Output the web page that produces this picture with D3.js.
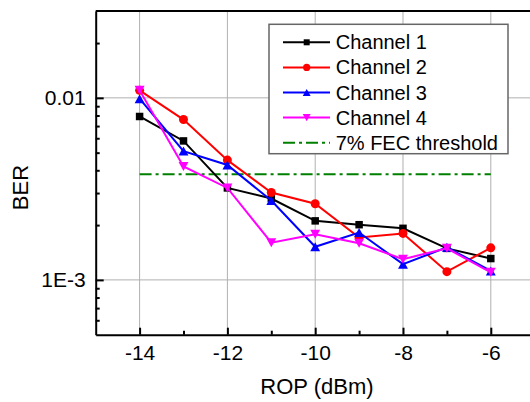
<!DOCTYPE html>
<html>
<head>
<meta charset="utf-8">
<script src="https://cdn.jsdelivr.net/npm/d3@7"></script>
<style>
  body { margin: 0; background: #fff; }
  svg { display: block; font-family: "Liberation Sans", Arial, sans-serif; }
</style>
</head>
<body>
<svg id="chart"></svg>
<script>
// data
const rop = [-14, -13, -12, -11, -10, -9, -8, -7, -6];
const channel1 = [7.9e-3, 5.8e-3, 3.2e-3, 2.8e-3, 2.11e-3, 2.01e-3, 1.92e-3, 1.49e-3, 1.31e-3];
const channel2 = [1.1e-2, 7.6e-3, 4.55e-3, 3.02e-3, 2.62e-3, 1.71e-3, 1.8e-3, 1.11e-3, 1.5e-3];
const channel3 = [9.9e-3, 5.1e-3, 4.28e-3, 2.73e-3, 1.52e-3, 1.82e-3, 1.22e-3, 1.51e-3, 1.12e-3];
const channel4 = [1.1e-2, 4.2e-3, 3.2e-3, 1.6e-3, 1.78e-3, 1.59e-3, 1.3e-3, 1.49e-3, 1.1e-3];
const fecThreshold = 3.8e-3;
const fecRange = [-14, -6];
const seriesNames = ["Channel 1", "Channel 2", "Channel 3", "Channel 4"];
const fecName = "7% FEC threshold";
const xTicks = [-14, -12, -10, -8, -6];
const xMinorTicks = [-13, -11, -9, -7];
const yTicks = [0.01, 0.001];
const yTickLabels = ["0.01", "1E-3"];

const width = 530, height = 402;
const margin = { top: 11, left: 95.7 };
const plotW = 439, plotH = 323.7;

const svg = d3.select("#chart").attr("width", width).attr("height", height);
const g = svg.append("g").attr("transform", `translate(${margin.left},${margin.top})`);

const x = d3.scaleLinear().domain([-15, -5]).range([0, plotW]);
const y = d3.scaleLog().domain([5e-4, 3e-2]).range([plotH, 0]);

// minor log ticks 2..9 per decade
const yMinor = [];
[1e-4, 1e-3, 1e-2].forEach(d => {
  for (let k = 2; k <= 9; k++) {
    const v = k * d;
    if (v > 5e-4 && v < 3e-2) yMinor.push(v);
  }
});

// grid
g.append("g").selectAll("line").data(xTicks).join("line")
  .attr("x1", d => x(d)).attr("x2", d => x(d))
  .attr("y1", 0).attr("y2", plotH)
  .attr("stroke", "#b0b0b0").attr("stroke-width", 1);
g.append("g").selectAll("line").data(yTicks).join("line")
  .attr("x1", 0).attr("x2", plotW)
  .attr("y1", d => y(d)).attr("y2", d => y(d))
  .attr("stroke", "#b0b0b0").attr("stroke-width", 1);

// top frame line
g.append("line").attr("x1", 0).attr("x2", plotW).attr("y1", 0).attr("y2", 0)
  .attr("stroke", "#000").attr("stroke-width", 2);

// axes
const xAxis = g.append("g").attr("transform", `translate(0,${plotH})`)
  .call(d3.axisBottom(x).tickValues(xTicks).tickSize(-7).tickSizeOuter(0).tickPadding(10).tickFormat(d => d));
g.append("g").attr("transform", `translate(0,${plotH})`)
  .call(d3.axisBottom(x).tickValues(xMinorTicks).tickSize(-4).tickSizeOuter(0).tickFormat(""))
  .select(".domain").remove();

const yAxis = g.append("g")
  .call(d3.axisLeft(y).tickValues(yTicks).tickSize(-8).tickSizeOuter(0).tickPadding(10)
    .tickFormat((d, i) => yTickLabels[i]));
g.append("g")
  .call(d3.axisLeft(y).tickValues(yMinor).tickSize(-4).tickSizeOuter(0).tickFormat(""))
  .select(".domain").remove();

g.selectAll(".domain").attr("stroke-width", 2);
g.selectAll(".tick line").attr("stroke-width", 2);
g.selectAll(".tick text").attr("font-size", 21).attr("fill", "#000")
  .attr("font-family", "'Liberation Sans', Arial, sans-serif");

// axis titles
svg.append("text").attr("x", 317).attr("y", 394).attr("text-anchor", "middle")
  .attr("font-size", 22).text("ROP (dBm)");
svg.append("text").attr("transform", "translate(28,187.5) rotate(-90)").attr("text-anchor", "middle")
  .attr("font-size", 22).text("BER");

// FEC line
g.append("line")
  .attr("x1", x(fecRange[0])).attr("x2", x(fecRange[1]))
  .attr("y1", y(fecThreshold)).attr("y2", y(fecThreshold))
  .attr("stroke", "#008000").attr("stroke-width", 2).attr("stroke-dasharray", "12,4,3,4");

// marker shapes
const markers = {
  square: s => `M${-s / 2},${-s / 2}h${s}v${s}h${-s}Z`,
  circle: s => d3.symbol(d3.symbolCircle, Math.PI * (s / 2) * (s / 2))(),
  up: s => `M0,${-s / 2}L${s * 0.55},${s / 2}L${-s * 0.55},${s / 2}Z`,
  down: s => `M0,${s / 2}L${s * 0.55},${-s / 2}L${-s * 0.55},${-s / 2}Z`
};

const series = [
  { name: seriesNames[0], values: channel1, color: "#000000", marker: "square", size: 7.5 },
  { name: seriesNames[1], values: channel2, color: "#ff0000", marker: "circle", size: 9 },
  { name: seriesNames[2], values: channel3, color: "#0000ff", marker: "up", size: 9 },
  { name: seriesNames[3], values: channel4, color: "#ff00ff", marker: "down", size: 9 }
];

const line = d3.line().x(d => x(d[0])).y(d => y(d[1]));

series.forEach(s => {
  const pts = rop.map((r, i) => [r, s.values[i]]);
  const sg = g.append("g");
  sg.append("path").datum(pts).attr("d", line)
    .attr("fill", "none").attr("stroke", s.color).attr("stroke-width", 2);
  sg.selectAll("path.m").data(pts).join("path").attr("class", "m")
    .attr("transform", d => `translate(${x(d[0])},${y(d[1])})`)
    .attr("d", markers[s.marker](s.size))
    .attr("fill", s.color);
});

// legend
const legend = svg.append("g");
legend.append("rect").attr("x", 269).attr("y", 24.3).attr("width", 239).attr("height", 129.4)
  .attr("fill", "#fff").attr("stroke", "#666").attr("stroke-width", 1.5);
const rowY = d => 42.3 + d * 25.1;
series.forEach((s, i) => {
  legend.append("line").attr("x1", 283).attr("x2", 330).attr("y1", rowY(i)).attr("y2", rowY(i))
    .attr("stroke", s.color).attr("stroke-width", 2);
  legend.append("path").attr("transform", `translate(306.7,${rowY(i)})`)
    .attr("d", markers[s.marker](s.size * 0.8)).attr("fill", s.color);
  legend.append("text").attr("x", 335.7).attr("y", rowY(i)).attr("dy", "0.35em")
    .attr("font-size", 20).text(s.name);
});
legend.append("line").attr("x1", 283).attr("x2", 330).attr("y1", rowY(4)).attr("y2", rowY(4))
  .attr("stroke", "#008000").attr("stroke-width", 2).attr("stroke-dasharray", "12,4,3,4");
legend.append("text").attr("x", 335.7).attr("y", rowY(4)).attr("dy", "0.35em")
  .attr("font-size", 20).text(fecName);
</script>
</body>
</html>
